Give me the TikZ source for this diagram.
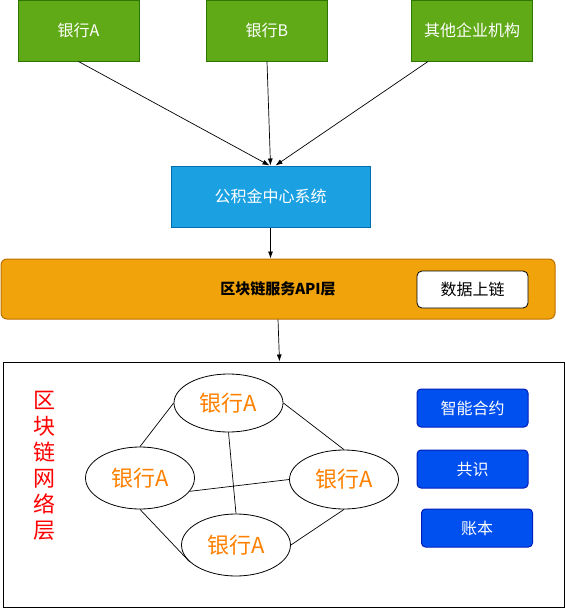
\documentclass[tikz,border=0pt]{standalone}
\usepackage{fontspec}
\setmainfont{Noto Sans CJK SC}
\usetikzlibrary{shapes.geometric,arrows.meta}

\definecolor{bankfill}{HTML}{60A917}
\definecolor{bankline}{HTML}{2D7600}
\definecolor{hubfill}{HTML}{1BA1E2}
\definecolor{hubline}{HTML}{006EAF}
\definecolor{apifill}{HTML}{F0A30A}
\definecolor{apiline}{HTML}{BD7000}
\definecolor{toolfill}{HTML}{0050EF}
\definecolor{toolline}{HTML}{001DBC}
\definecolor{peertext}{HTML}{FF8000}

\tikzset{
    bankbox/.style={draw=bankline, fill=bankfill, text=white, line width=1pt,
        minimum width=121pt, minimum height=61pt, inner sep=0pt,
        font=\fontsize{16}{18}\selectfont},
    toolbox/.style={draw=toolline, fill=toolfill, text=white, line width=1pt,
        rounded corners=4pt, minimum width=111pt, minimum height=38pt, inner sep=0pt,
        font=\fontsize{16}{18}\selectfont},
    peer/.style={ellipse, draw, line width=0.8pt, minimum width=109pt, minimum height=58pt,
        inner sep=0pt, text=peertext, font=\fontsize{22}{24}\selectfont},
    link/.style={line width=0.7pt},
}

\begin{document}
\begin{tikzpicture}[>={Latex[length=7pt,width=5pt]}, x=1pt, y=-1pt]
\useasboundingbox (0,0) rectangle (565,608);

    % participants
    \node[bankbox] (bankA) at (78.5,30.5) {银行A};
    \node[bankbox] (bankB) at (267,30.5) {银行B};
    \node[bankbox] (other) at (472,30.5) {其他企业机构};

    \node[draw=hubline, fill=hubfill, text=white, line width=1pt, minimum width=199pt,
        minimum height=61pt, inner sep=0pt, font=\fontsize{16}{18}\selectfont]
        (hub) at (270.5,196.5) {公积金中心系统};

    \draw[->, link] (bankA.south) -- ([xshift=-1pt]hub.north);
    \draw[->, link] (bankB.south) -- (hub.north);
    \draw[->, link] ([xshift=-44pt]other.south) -- ([xshift=5pt]hub.north);

    % API layer
    \node[draw=apiline, fill=apifill, line width=1pt, rounded corners=6pt, minimum width=554pt,
        minimum height=60pt, inner sep=0pt, font=\bfseries\fontsize{15}{18}\selectfont]
        (api) at (278,289) {区块链服务API层};
    \node[draw, fill=white, line width=0.8pt, rounded corners=5pt, minimum width=111pt,
        minimum height=37pt, inner sep=0pt, font=\fontsize{16}{18}\selectfont]
        (upload) at (472.5,289.5) {数据上链};

    \draw[->, link] (hub.south) -- (hub.south |- api.north);

    % network layer
    \node[draw, line width=1pt, minimum width=561pt, minimum height=245pt, inner sep=0pt]
        (net) at (283.5,484.5) {};
    \draw[->, link] (api.south) -- ([xshift=-4pt]net.north);

    \node[text=red, align=center, font=\fontsize{22}{26}\selectfont] (netlabel) at (45,466)
        {区\\块\\链\\网\\络\\层};

    \node[peer] (t) at (228.5,403) {银行A};
    \node[peer, minimum height=62pt] (l) at (140,478) {银行A};
    \node[peer, minimum height=59pt] (r) at (344,479.5) {银行A};
    \node[peer, minimum height=62pt] (b) at (236,545) {银行A};

    \draw[link] (l.north) -- (t.west);
    \draw[link] (t.east) -- (r.north);
    \draw[link] (l.south) -- (b.200);
    \draw[link] (r.south) -- (b.east);
    \draw[link] (t.south) -- (b.north);
    \draw[link] (l.345) -- (r.west);

    \node[toolbox] (contract) at (472.5,408) {智能合约};
    \node[toolbox] (consensus) at (472.5,469) {共识};
    \node[toolbox] (ledger) at (477,528) {账本};

\end{tikzpicture}
\end{document}
